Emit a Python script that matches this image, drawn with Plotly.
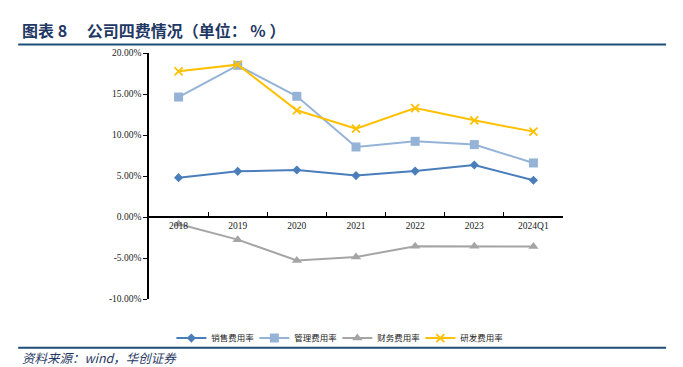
import plotly.graph_objects as go

categories = ["2018", "2019", "2020", "2021", "2022", "2023", "2024Q1"]
sales_rate = [4.80, 5.57, 5.73, 5.05, 5.60, 6.34, 4.48]
mgmt_rate = [14.63, 18.50, 14.72, 8.54, 9.23, 8.83, 6.59]
fin_rate = [-0.85, -2.76, -5.30, -4.88, -3.57, -3.57, -3.60]
rd_rate = [17.77, 18.58, 13.01, 10.78, 13.29, 11.79, 10.41]

series_names = ["销售费用率", "管理费用率", "财务费用率", "研发费用率"]
tick_vals = [-10, -5, 0, 5, 10, 15, 20]
tick_text = [f"{v:.2f}%" for v in tick_vals]

title_text = "图表 8　 公司四费情况（单位：&nbsp;%&nbsp;）"
source_text = "资料来源：wind，华创证券"

colors = ["#4A7EBB", "#95B3D7", "#A5A5A5", "#FFC000"]
symbols = ["diamond", "square", "triangle-up", "x-thin"]
msizes = [7, 9, 9, 8]
data = [sales_rate, mgmt_rate, fin_rate, rd_rate]

fig = go.Figure()
for name, vals, c, s, ms in zip(series_names, data, colors, symbols, msizes):
    marker = dict(color=c, size=ms, symbol=s)
    if s == "x-thin":
        marker["line"] = dict(color=c, width=1.8)
    fig.add_trace(go.Scatter(
        x=categories, y=vals, name=name, mode="lines+markers",
        line=dict(color=c, width=2), marker=marker,
    ))

serif = "Liberation Serif, Times New Roman, serif"
cjk = "Noto Sans CJK SC"

fig.update_layout(
    width=675, height=359,
    margin=dict(l=141, r=120, t=45, b=68, autoexpand=False),
    paper_bgcolor="white", plot_bgcolor="white",
    showlegend=True,
    legend=dict(
        orientation="h", x=0.455, xanchor="center", y=-0.159, yanchor="middle",
        font=dict(family=cjk, size=8.5, color="#222222"),
        entrywidth=38, entrywidthmode="pixels", itemwidth=30,
        bgcolor="rgba(0,0,0,0)",
    ),
    xaxis=dict(
        type="category", range=[-0.5, 6.5],
        anchor="free", position=1/3,
        showline=True, linecolor="black", linewidth=1.5,
        ticks="inside", tickson="boundaries", ticklen=4, tickcolor="black", tickwidth=1.2,
        showgrid=False, zeroline=False,
        tickfont=dict(family=serif, size=9.5, color="#222222"),
    ),
    yaxis=dict(
        range=[-10, 20], tickvals=tick_vals, ticktext=tick_text,
        showline=True, linecolor="black", linewidth=1.5,
        ticks="outside", ticklen=4, tickcolor="black", tickwidth=1.2,
        showgrid=False, zeroline=False,
        tickfont=dict(family=serif, size=9.5, color="#222222"),
    ),
    shapes=[
        dict(type="line", xref="paper", yref="paper", x0=-0.316, x1=1.249, y0=1.035, y1=1.035,
             line=dict(color="#1F4E79", width=2)),
        dict(type="line", xref="paper", yref="paper", x0=-0.316, x1=1.249, y0=-0.198, y1=-0.198,
             line=dict(color="#1F4E79", width=2)),
    ],
    annotations=[
        dict(text="<b>" + title_text + "</b>", xref="paper", yref="paper", x=-0.3116, y=1.093,
             xanchor="left", yanchor="middle", showarrow=False,
             font=dict(family=cjk, size=16, color="#1F3864")),
        dict(text="<i>" + source_text + "</i>", xref="paper", yref="paper", x=-0.3116, y=-0.238,
             xanchor="left", yanchor="middle", showarrow=False,
             font=dict(family=cjk, size=12.5, color="#1F3864")),
    ],
)

fig.write_html("out.html")
